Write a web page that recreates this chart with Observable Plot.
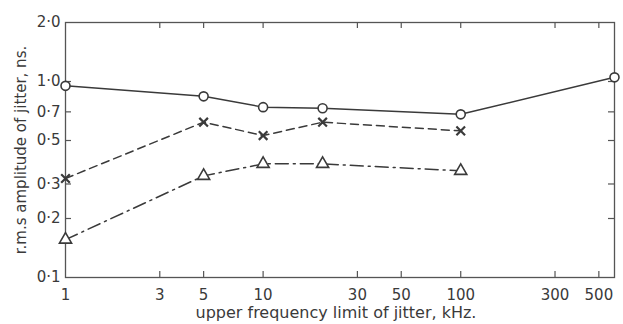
<!DOCTYPE html>
<html>
<head>
<meta charset="utf-8">
<script src="https://cdn.jsdelivr.net/npm/d3@7"></script>
<script src="https://cdn.jsdelivr.net/npm/@observablehq/plot@0.6"></script>
<style>
  html, body { margin: 0; padding: 0; background: #fff; }
  #chart svg { display: block; }
</style>
</head>
<body>
<div id="chart"></div>
<script>
// Data
const freq = [1, 5, 10, 20, 100];
const circleSeries = [0.95, 0.84, 0.74, 0.73, 0.68];
const circleExtraX = [600];
const circleExtraY = [1.05];
const crossSeries = [0.32, 0.62, 0.53, 0.62, 0.56];
const triangleSeries = [0.156, 0.33, 0.38, 0.38, 0.35];

const xTicks = [1, 3, 5, 10, 30, 50, 100, 300, 500];
const yTicks = [0.1, 0.2, 0.3, 0.5, 0.7, 1.0, 2.0];
const xLabel = "upper frequency limit of jitter, kHz.";
const yLabel = "r.m.s amplitude of jitter, ns.";

const circles = freq.map((f, i) => ({x: f, y: circleSeries[i]}))
  .concat(circleExtraX.map((f, i) => ({x: f, y: circleExtraY[i]})));
const crosses = freq.map((f, i) => ({x: f, y: crossSeries[i]}));
const triangles = freq.map((f, i) => ({x: f, y: triangleSeries[i]}));

const W = 623, H = 324;
const mt = 22, mb = 47, ml = 65, mr = 9;
const innerH = H - mt - mb, innerW = W - ml - mr;
const ink = "#3a3a3a";
const tk = 6;

const fmtY = d => d3.format(".1f")(d).replace(".", "\u00B7");

const chart = Plot.plot({
  width: W, height: H,
  marginTop: mt, marginBottom: mb, marginLeft: ml, marginRight: mr,
  style: {fontFamily: "DejaVu Sans, sans-serif", background: "#fff", color: ink},
  x: {type: "log", domain: [1, 600], axis: null},
  y: {type: "log", domain: [0.1, 2.0], axis: null},
  marks: [
    Plot.frame({stroke: "#555", strokeWidth: 1.3}),
    // inward ticks
    Plot.ruleX(xTicks.slice(1), {x: d => d, insetTop: innerH - tk, stroke: "#555", strokeWidth: 1.2}),
    Plot.ruleX(xTicks.slice(1), {x: d => d, insetBottom: innerH - tk, stroke: "#555", strokeWidth: 1.2}),
    Plot.ruleY(yTicks.slice(1, -1), {y: d => d, insetRight: innerW - tk, stroke: "#555", strokeWidth: 1.2}),
    Plot.ruleY(yTicks.slice(1, -1), {y: d => d, insetLeft: innerW - tk, stroke: "#555", strokeWidth: 1.2}),
    // tick labels
    Plot.text(xTicks, {x: d => d, text: d => String(d), frameAnchor: "bottom", lineAnchor: "top", dy: 12, fontSize: 15, fill: ink}),
    Plot.text(yTicks, {y: d => d, text: fmtY, frameAnchor: "left", textAnchor: "end", dx: -5, fontSize: 15, fill: ink}),
    // series
    Plot.line(circles, {x: "x", y: "y", stroke: ink, strokeWidth: 1.5}),
    Plot.line(crosses, {x: "x", y: "y", stroke: ink, strokeWidth: 1.5, strokeDasharray: "8,5"}),
    Plot.line(triangles, {x: "x", y: "y", stroke: ink, strokeWidth: 1.5, strokeDasharray: "13,5,2,5"}),
    Plot.dot(circles, {x: "x", y: "y", r: 4.5, fill: "#fff", stroke: ink, strokeWidth: 1.6}),
    Plot.dot(crosses, {x: "x", y: "y", symbol: "times", r: 4, fill: "#fff", stroke: ink, strokeWidth: 2.2}),
    Plot.dot(triangles, {x: "x", y: "y", symbol: "triangle", r: 4.5, fill: "#fff", stroke: ink, strokeWidth: 1.6}),
    // axis titles
    Plot.text([xLabel], {text: d => d, frameAnchor: "bottom", lineAnchor: "top", dy: 29, dx: -4, fontSize: 16, fill: ink, style: "word-spacing:6px"}),
    Plot.text([yLabel], {text: d => d, frameAnchor: "left", textAnchor: "middle", rotate: -90, dx: -44, fontSize: 15, fill: ink})
  ]
});
document.getElementById("chart").appendChild(chart);
</script>
</body>
</html>
